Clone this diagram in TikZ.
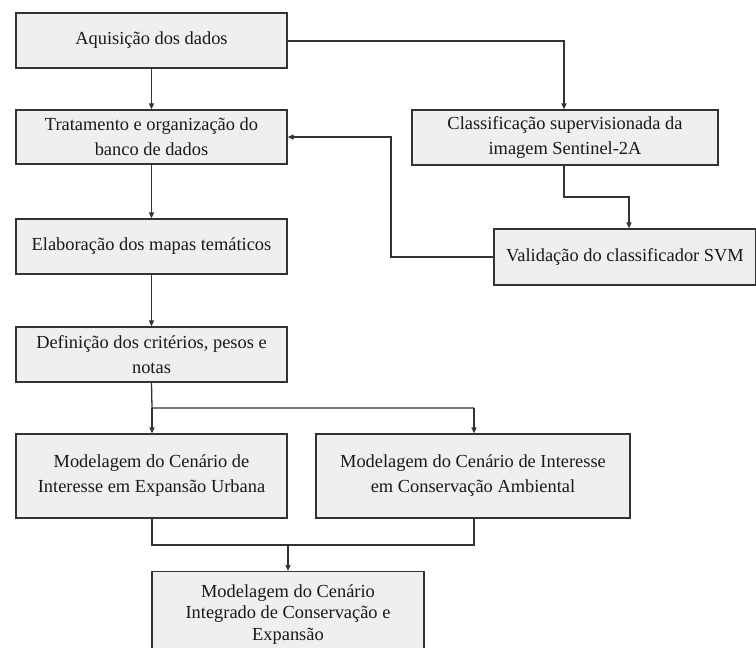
\documentclass[tikz,border=0pt]{standalone}
\usepackage{fontspec}
\setmainfont{Liberation Serif}
\usetikzlibrary{arrows.meta}
\definecolor{boxfill}{HTML}{EFEFEF}
\definecolor{edge}{HTML}{333333}
\begin{document}
\begin{tikzpicture}[x=1pt,y=-1pt,
  box/.style={draw=edge, line width=1.3pt, fill=boxfill, rectangle, inner sep=0pt, align=center,
    text=black!90, font=\fontsize{18.4}{25}\selectfont},
  conn/.style={draw=edge, line width=1.3pt},
  arr/.style={conn, -{Triangle[length=6pt,width=5pt]}}]
\useasboundingbox (0,0) rectangle (756,648);
\fill[white] (0,0) rectangle (756,648);
\node[box, minimum width=271pt, minimum height=55pt] (A) at (151.5,40.5) {Aquisição dos dados};
\node[box, minimum width=271pt, minimum height=54pt] (B) at (151.5,137) {Tratamento e organização do\\banco de dados};
\node[box, minimum width=271pt, minimum height=55pt] (C) at (151.5,246.5) {Elaboração dos mapas temáticos};
\node[box, minimum width=271pt, minimum height=55pt] (D) at (151.5,354.5) {Definição dos critérios, pesos e\\notas};
\node[box, minimum width=271pt, minimum height=84pt] (E) at (151.5,476) {Modelagem do Cenário de\\Interesse em Expansão Urbana};
\node[box, minimum width=314pt, minimum height=84pt] (F) at (473,476) {Modelagem do Cenário de Interesse\\em Conservação Ambiental};
\node[box, minimum width=272pt, inner ysep=13pt, anchor=north, font=\fontsize{18.4}{21.5}\selectfont] (G) at (288,571) {Modelagem do Cenário\\Integrado de Conservação e\\Expansão};
\node[box, minimum width=306pt, minimum height=55pt] (H) at (565,137.5) {Classificação supervisionada da\\imagem Sentinel-2A};
\node[box, minimum width=262pt, minimum height=56pt] (I) at (625,257) {Validação do classificador SVM};
% connectors
\draw[arr] (A.south) -- (B.north);
\draw[arr] (A.east |- 0,41) -| (564,0 |- H.north);
\coordinate (h1) at (564,197);
\coordinate (h2) at (629,197);
\draw[arr] (564,0 |- H.south) -- (h1) -- (h2) -- (629,0 |- I.north);
\coordinate (v1) at (391,257);
\coordinate (v2) at (391,137);
\draw[arr] (I.west) -- (v1) -- (v2) -- (B.east);
\draw[arr] (B.south) -- (C.north);
\draw[arr] (C.south) -- (D.north);
\coordinate (d1) at (152,408);
\coordinate (d2) at (474,408);
\draw[conn] (D.south) -- (d1) -- (d2);
\draw[arr] (d1) -- (152,0 |- E.north);
\draw[arr] (d2) -- (474,0 |- F.north);
\coordinate (e1) at (152,545);
\coordinate (e2) at (474,545);
\coordinate (g1) at (288,545);
\draw[conn] (152,0 |- E.south) -- (e1) -- (e2) -- (474,0 |- F.south);
\draw[arr] (g1) -- (G.north);
\end{tikzpicture}
\end{document}
